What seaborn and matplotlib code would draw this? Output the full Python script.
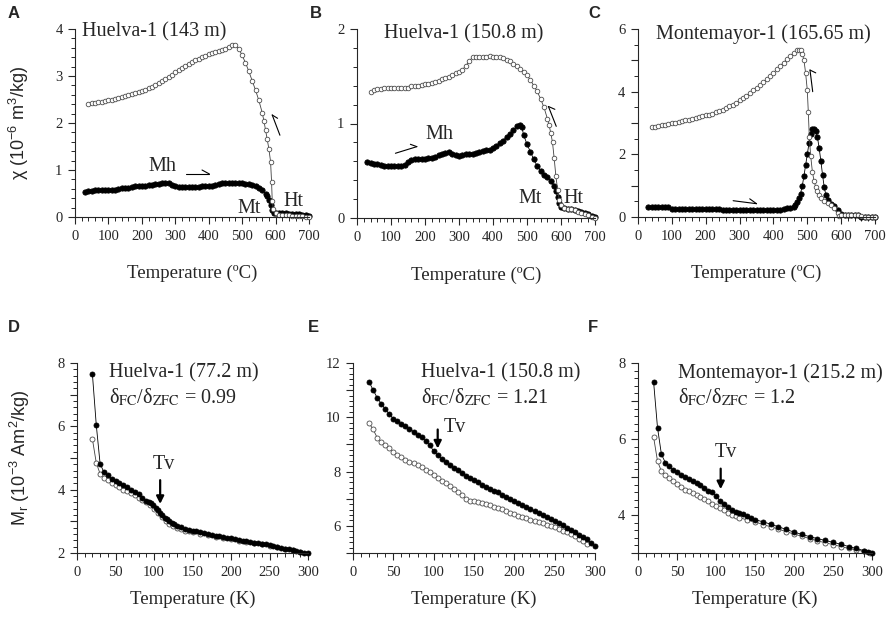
import matplotlib
matplotlib.use("Agg")
import matplotlib.pyplot as plt
import numpy as np
import pandas as pd
import seaborn as sns
from matplotlib.ticker import MultipleLocator, FuncFormatter

# ---- data: (temperature, value) ----
# top row: susceptibility chi (1e-6 m3/kg) vs T (C); heating = filled, cooling = open
a_heat = [(30, 0.54), (40, 0.55), (50, 0.56), (60, 0.57), (70, 0.57), (80, 0.57), (90, 0.57), (100, 0.57),
          (110, 0.58), (120, 0.58), (130, 0.59), (140, 0.61), (150, 0.62), (160, 0.62), (170, 0.63), (180, 0.65),
          (190, 0.65), (200, 0.66), (210, 0.67), (220, 0.68), (230, 0.69), (240, 0.70), (250, 0.71), (260, 0.72),
          (270, 0.73), (280, 0.72), (290, 0.68), (300, 0.65), (310, 0.64), (320, 0.64), (330, 0.63), (340, 0.63),
          (350, 0.63), (360, 0.64), (370, 0.64), (380, 0.65), (390, 0.65), (400, 0.65), (410, 0.66), (420, 0.68),
          (430, 0.71), (440, 0.72), (450, 0.72), (460, 0.72), (470, 0.72), (480, 0.72), (490, 0.72), (500, 0.72),
          (510, 0.71), (520, 0.70), (530, 0.68), (540, 0.65), (550, 0.61), (560, 0.57), (570, 0.50), (575, 0.44),
          (580, 0.36), (585, 0.25), (590, 0.14), (595, 0.09), (600, 0.08), (610, 0.08), (620, 0.08), (630, 0.08),
          (640, 0.07), (650, 0.07), (660, 0.07), (670, 0.06), (680, 0.05), (690, 0.04), (700, 0.03)]
a_cool = [(40, 2.40), (50, 2.42), (60, 2.43), (70, 2.44), (80, 2.45), (90, 2.47), (100, 2.49), (110, 2.50),
          (120, 2.52), (130, 2.53), (140, 2.55), (150, 2.57), (160, 2.59), (170, 2.61), (180, 2.63), (190, 2.66),
          (200, 2.68), (210, 2.71), (220, 2.74), (230, 2.77), (240, 2.81), (250, 2.85), (260, 2.89), (270, 2.93),
          (280, 2.98), (290, 3.03), (300, 3.08), (310, 3.13), (320, 3.18), (330, 3.22), (340, 3.26), (350, 3.30),
          (360, 3.34), (370, 3.37), (380, 3.40), (390, 3.43), (400, 3.46), (410, 3.49), (420, 3.52), (430, 3.54),
          (440, 3.56), (450, 3.58), (460, 3.61), (470, 3.65), (480, 3.65), (490, 3.58), (500, 3.44), (510, 3.28),
          (520, 3.10), (530, 2.90), (540, 2.70), (550, 2.48), (560, 2.22), (565, 2.05), (570, 1.85), (575, 1.65),
          (580, 1.45), (585, 1.18), (588, 0.75), (590, 0.35), (593, 0.18), (600, 0.08), (610, 0.05), (620, 0.04),
          (630, 0.04), (640, 0.04), (650, 0.03), (660, 0.03), (670, 0.02), (680, 0.02), (690, 0.01), (700, 0.01)]

b_heat = [(30, 0.59), (40, 0.58), (50, 0.57), (60, 0.57), (70, 0.56), (80, 0.55), (90, 0.55), (100, 0.55),
          (110, 0.55), (120, 0.55), (130, 0.55), (140, 0.56), (150, 0.59), (160, 0.61), (170, 0.62), (180, 0.62),
          (190, 0.62), (200, 0.62), (210, 0.63), (220, 0.64), (230, 0.65), (240, 0.67), (250, 0.68), (260, 0.69),
          (270, 0.70), (280, 0.68), (290, 0.67), (300, 0.66), (310, 0.67), (320, 0.68), (330, 0.68), (340, 0.68),
          (350, 0.69), (360, 0.70), (370, 0.71), (380, 0.72), (390, 0.72), (400, 0.74), (410, 0.76), (420, 0.79),
          (430, 0.82), (440, 0.86), (450, 0.89), (460, 0.93), (470, 0.97), (480, 0.98), (485, 0.96), (490, 0.88),
          (500, 0.78), (510, 0.70), (520, 0.62), (530, 0.55), (540, 0.50), (550, 0.46), (560, 0.43), (570, 0.39),
          (580, 0.34), (585, 0.29), (590, 0.22), (595, 0.16), (600, 0.12), (610, 0.11), (620, 0.10), (630, 0.09),
          (640, 0.08), (650, 0.07), (660, 0.06), (670, 0.05), (680, 0.04), (690, 0.02), (700, 0.01)]
b_cool = [(40, 1.33), (50, 1.35), (60, 1.36), (70, 1.37), (80, 1.38), (90, 1.38), (100, 1.38), (110, 1.38),
          (120, 1.38), (130, 1.38), (140, 1.38), (150, 1.38), (160, 1.40), (170, 1.40), (180, 1.40), (190, 1.41),
          (200, 1.42), (210, 1.42), (220, 1.43), (230, 1.44), (240, 1.45), (250, 1.47), (260, 1.48), (270, 1.49),
          (280, 1.51), (290, 1.53), (300, 1.55), (310, 1.57), (320, 1.61), (330, 1.66), (340, 1.70), (350, 1.70),
          (360, 1.70), (370, 1.70), (380, 1.70), (390, 1.71), (400, 1.70), (410, 1.70), (420, 1.70), (430, 1.69),
          (440, 1.67), (450, 1.66), (460, 1.63), (470, 1.61), (480, 1.58), (490, 1.55), (500, 1.51), (510, 1.46),
          (520, 1.40), (530, 1.34), (540, 1.26), (550, 1.17), (560, 1.05), (565, 0.98), (570, 0.90), (575, 0.80),
          (580, 0.63), (585, 0.44), (590, 0.30), (595, 0.19), (600, 0.14), (610, 0.11), (620, 0.10), (630, 0.09),
          (640, 0.08), (650, 0.06), (660, 0.05), (670, 0.04), (680, 0.03), (690, 0.01), (700, 0.00)]

c_heat = [(30, 0.32), (40, 0.32), (50, 0.32), (60, 0.32), (70, 0.32), (80, 0.32), (90, 0.31), (100, 0.27),
          (110, 0.27), (120, 0.27), (130, 0.27), (140, 0.27), (150, 0.27), (160, 0.27), (170, 0.27), (180, 0.27),
          (190, 0.27), (200, 0.27), (210, 0.27), (220, 0.27), (230, 0.27), (240, 0.27), (250, 0.22), (260, 0.22),
          (270, 0.22), (280, 0.22), (290, 0.22), (300, 0.22), (310, 0.22), (320, 0.22), (330, 0.22), (340, 0.22),
          (350, 0.22), (360, 0.22), (370, 0.22), (380, 0.22), (390, 0.22), (400, 0.22), (410, 0.22), (420, 0.22),
          (430, 0.25), (440, 0.28), (450, 0.30), (460, 0.33), (465, 0.38), (470, 0.48), (475, 0.60), (480, 0.75),
          (485, 0.98), (490, 1.30), (495, 1.65), (500, 2.00), (505, 2.35), (510, 2.65), (515, 2.80), (520, 2.82),
          (525, 2.75), (530, 2.55), (535, 2.20), (540, 1.80), (545, 1.35), (550, 0.95), (555, 0.70), (560, 0.55),
          (570, 0.42), (580, 0.35), (590, 0.22), (600, 0.08), (610, 0.06), (620, 0.06), (630, 0.06), (640, 0.06),
          (650, 0.05), (660, 0.01), (670, 0.00), (680, 0.00), (690, 0.00), (700, 0.00)]
c_cool = [(40, 2.86), (50, 2.88), (60, 2.91), (70, 2.93), (80, 2.95), (90, 2.97), (100, 2.99), (110, 3.01),
          (120, 3.03), (130, 3.05), (140, 3.08), (150, 3.10), (160, 3.13), (170, 3.16), (180, 3.18), (190, 3.21),
          (200, 3.24), (210, 3.27), (220, 3.30), (230, 3.34), (240, 3.38), (250, 3.42), (260, 3.47), (270, 3.53),
          (280, 3.59), (290, 3.65), (300, 3.72), (310, 3.79), (320, 3.87), (330, 3.95), (340, 4.04), (350, 4.12),
          (360, 4.21), (370, 4.30), (380, 4.40), (390, 4.50), (400, 4.60), (410, 4.71), (420, 4.82), (430, 4.93),
          (440, 5.04), (450, 5.14), (460, 5.24), (470, 5.32), (475, 5.34), (480, 5.33), (485, 5.20), (490, 5.02),
          (495, 4.60), (500, 4.05), (503, 3.35), (506, 2.55), (510, 1.95), (515, 1.45), (520, 1.15), (525, 0.95),
          (530, 0.82), (535, 0.70), (540, 0.62), (550, 0.52), (560, 0.46), (570, 0.38), (580, 0.28), (590, 0.12),
          (595, 0.03), (600, 0.05), (610, 0.06), (620, 0.06), (630, 0.06), (640, 0.06), (650, 0.05), (660, 0.02),
          (670, 0.00), (680, 0.00), (690, 0.00), (700, 0.00)]

# bottom row: remanence Mr (1e-3 Am2/kg) vs T (K); filled = FC, open = ZFC
d_fc = [(20, 7.65), (25, 6.05), (30, 4.82), (35, 4.55), (40, 4.45), (45, 4.35), (50, 4.27), (55, 4.20),
        (60, 4.15), (65, 4.08), (70, 4.00), (75, 3.93), (80, 3.85), (85, 3.75), (90, 3.65), (93, 3.60),
        (96, 3.57), (99, 3.50), (102, 3.42), (105, 3.35), (108, 3.27), (111, 3.20), (114, 3.12), (117, 3.06),
        (120, 3.00), (123, 2.95), (126, 2.90), (130, 2.85), (135, 2.81), (140, 2.77), (145, 2.73), (150, 2.70),
        (155, 2.68), (160, 2.66), (165, 2.63), (170, 2.61), (175, 2.58), (180, 2.55), (185, 2.53), (190, 2.50),
        (195, 2.48), (200, 2.46), (205, 2.43), (210, 2.41), (215, 2.39), (220, 2.37), (225, 2.35), (230, 2.33),
        (235, 2.31), (240, 2.29), (245, 2.27), (250, 2.25), (255, 2.22), (260, 2.20), (265, 2.17), (270, 2.14),
        (275, 2.12), (280, 2.09), (285, 2.06), (290, 2.03), (295, 2.01), (300, 2.00)]
d_zfc = [(20, 5.60), (25, 4.85), (30, 4.50), (35, 4.38), (40, 4.30), (45, 4.22), (50, 4.15), (55, 4.08),
         (60, 4.00), (65, 3.95), (70, 3.88), (75, 3.82), (80, 3.75), (85, 3.68), (90, 3.60), (95, 3.50),
         (100, 3.38), (105, 3.26), (110, 3.14), (115, 3.02), (120, 2.93), (125, 2.86), (130, 2.80), (135, 2.75),
         (140, 2.71), (145, 2.68), (150, 2.65), (160, 2.60), (170, 2.56), (180, 2.52), (190, 2.47), (200, 2.43),
         (210, 2.39), (220, 2.35), (230, 2.31), (240, 2.27), (250, 2.23), (260, 2.18), (270, 2.13), (280, 2.08),
         (290, 2.03)]

e_fc = [(20, 11.30), (25, 11.00), (30, 10.72), (35, 10.50), (40, 10.30), (45, 10.12), (50, 9.95), (55, 9.85),
        (60, 9.75), (65, 9.67), (70, 9.58), (75, 9.47), (80, 9.35), (85, 9.28), (90, 9.12), (95, 8.98),
        (100, 8.75), (105, 8.60), (110, 8.47), (115, 8.35), (120, 8.24), (125, 8.14), (130, 8.05), (135, 7.95),
        (140, 7.85), (145, 7.76), (150, 7.68), (155, 7.60), (160, 7.52), (165, 7.44), (170, 7.37), (175, 7.30),
        (180, 7.23), (185, 7.15), (190, 7.07), (195, 6.99), (200, 6.91), (205, 6.84), (210, 6.77), (215, 6.69),
        (220, 6.62), (225, 6.55), (230, 6.48), (235, 6.40), (240, 6.33), (245, 6.26), (250, 6.18), (255, 6.10),
        (260, 6.02), (265, 5.93), (270, 5.85), (275, 5.77), (280, 5.68), (285, 5.60), (290, 5.50), (295, 5.38),
        (300, 5.25)]
e_zfc = [(20, 9.78), (25, 9.55), (30, 9.25), (35, 9.10), (40, 8.98), (45, 8.85), (50, 8.72), (55, 8.62),
         (60, 8.52), (65, 8.44), (70, 8.37), (75, 8.30), (80, 8.23), (85, 8.15), (90, 8.06), (95, 7.97),
         (100, 7.86), (105, 7.76), (110, 7.66), (115, 7.57), (120, 7.47), (125, 7.37), (130, 7.25), (135, 7.13),
         (140, 7.00), (145, 6.93), (150, 6.90), (155, 6.87), (160, 6.84), (165, 6.80), (170, 6.76), (175, 6.71),
         (180, 6.66), (185, 6.61), (190, 6.55), (195, 6.49), (200, 6.42), (205, 6.37), (210, 6.32), (215, 6.28),
         (220, 6.23), (225, 6.18), (230, 6.14), (235, 6.09), (240, 6.04), (245, 5.99), (250, 5.94), (255, 5.88),
         (260, 5.82), (265, 5.76), (270, 5.69), (275, 5.62), (280, 5.53), (285, 5.43), (290, 5.33)]

f_fc = [(20, 7.50), (25, 6.30), (30, 5.60), (35, 5.38), (40, 5.28), (45, 5.18), (50, 5.12), (55, 5.06),
        (60, 5.00), (65, 4.95), (70, 4.90), (75, 4.85), (80, 4.80), (85, 4.72), (90, 4.63), (95, 4.60),
        (100, 4.50), (105, 4.38), (110, 4.28), (115, 4.20), (120, 4.14), (125, 4.09), (130, 4.05), (135, 4.02),
        (140, 3.97), (145, 3.92), (150, 3.88), (160, 3.82), (170, 3.76), (180, 3.69), (190, 3.62), (200, 3.55),
        (210, 3.49), (220, 3.43), (230, 3.38), (240, 3.33), (250, 3.28), (260, 3.23), (270, 3.17), (280, 3.12),
        (290, 3.06), (295, 3.03), (300, 3.00)]
f_zfc = [(20, 6.05), (25, 5.42), (30, 5.15), (35, 5.05), (40, 4.97), (45, 4.90), (50, 4.82), (55, 4.74),
         (60, 4.67), (65, 4.62), (70, 4.57), (75, 4.52), (80, 4.47), (85, 4.42), (90, 4.36), (95, 4.30),
         (100, 4.24), (105, 4.18), (110, 4.12), (115, 4.06), (120, 4.01), (125, 3.97), (130, 3.93), (140, 3.87),
         (150, 3.82), (160, 3.75), (170, 3.69), (180, 3.63), (190, 3.56), (200, 3.50), (210, 3.44), (220, 3.38),
         (230, 3.32), (240, 3.27), (250, 3.22), (260, 3.17), (270, 3.12), (280, 3.08), (290, 3.04), (298, 3.01)]

top_titles = ["Huelva-1 (143 m)", "Huelva-1 (150.8 m)", "Montemayor-1 (165.65 m)"]
bottom_titles = ["Huelva-1 (77.2 m)", "Huelva-1 (150.8 m)", "Montemayor-1 (215.2 m)"]
ratios = ["0.99", "1.21", "1.2"]

SERIF = ["Liberation Serif", "DejaVu Serif"]
SANS = ["Liberation Sans", "DejaVu Sans"]

sns.set_style("ticks")
plt.rcParams["font.family"] = SERIF
plt.rcParams["mathtext.fontset"] = "custom"
plt.rcParams["mathtext.rm"] = "Liberation Sans"
plt.rcParams["mathtext.it"] = "Liberation Sans:italic"
plt.rcParams["mathtext.bf"] = "Liberation Sans:bold"

fig = plt.figure(figsize=(8.92, 6.23), dpi=100)
W, H = 892.0, 623.0


def px_axes(left, top, right, bottom):
    return fig.add_axes([left / W, 1 - bottom / H, (right - left) / W, (bottom - top) / H])


ax_a = px_axes(75, 29, 309, 217)
ax_b = px_axes(357, 29, 595, 218)
ax_c = px_axes(638, 29, 875, 217)
ax_d = px_axes(77, 363, 308, 553)
ax_e = px_axes(353, 363, 595, 553)
ax_f = px_axes(638, 363, 872, 553)


def draw(ax, pts, filled, ms):
    df = pd.DataFrame(pts, columns=["T", "v"])
    face = "black" if filled else "white"
    edge = "black" if filled else "0.3"
    sns.lineplot(data=df, x="T", y="v", ax=ax, color="black" if filled else "0.25", lw=0.6,
                 marker="o", markersize=ms, markerfacecolor=face, markeredgecolor=edge, mew=0.6,
                 estimator=None, sort=False, clip_on=False)


def even_only(v, pos):
    return f"{v:g}" if int(round(v)) % 2 == 0 else ""


def style(ax, xlim, ylim, xmaj, xmin, ymaj, ymin, evenlab=False):
    ax.set_xlim(*xlim)
    ax.set_ylim(*ylim)
    ax.xaxis.set_major_locator(MultipleLocator(xmaj))
    ax.xaxis.set_minor_locator(MultipleLocator(xmin))
    ax.yaxis.set_major_locator(MultipleLocator(ymaj))
    ax.yaxis.set_minor_locator(MultipleLocator(ymin))
    if evenlab:
        ax.yaxis.set_major_formatter(FuncFormatter(even_only))
    for s in ["top", "right"]:
        ax.spines[s].set_visible(False)
    for s in ["left", "bottom"]:
        ax.spines[s].set_linewidth(0.8)
    ax.tick_params(which="major", direction="out", length=5, width=0.8, labelsize=10.5, pad=4)
    ax.tick_params(which="minor", direction="out", length=3.2, width=0.7)
    ax.set_xlabel("")
    ax.set_ylabel("")


def harpoon(ax, start, tip, barb):
    ax.plot([start[0], tip[0]], [start[1], tip[1]], color="black", lw=0.8)
    ax.plot([barb[0], tip[0]], [barb[1], tip[1]], color="black", lw=0.8)


# ---- top row ----
for ax, heat, cool in [(ax_a, a_heat, a_cool), (ax_b, b_heat, b_cool), (ax_c, c_heat, c_cool)]:
    draw(ax, heat, True, 3.8)
    draw(ax, cool, False, 3.3)

style(ax_a, (0, 700), (0, 4), 100, 20, 1, 0.2)
style(ax_b, (0, 700), (0, 2), 100, 20, 1, 0.2)
style(ax_c, (0, 700), (0, 6), 100, 20, 1, 0.5, evenlab=True)

ax_a.text(20, 3.93, top_titles[0], fontsize=14.5, va="center", ha="left")
ax_b.text(78, 1.95, top_titles[1], fontsize=14.5, va="center", ha="left")
ax_c.text(54, 5.85, top_titles[2], fontsize=14.5, va="center", ha="left")

ax_a.text(220, 1.07, "Mh", fontsize=14.5, va="center")
ax_a.text(487, 0.19, "Mt", fontsize=14.5, va="center")
ax_a.text(625, 0.34, "Ht", fontsize=14.5, va="center")
ax_b.text(200, 0.88, "Mh", fontsize=14.5, va="center")
ax_b.text(475, 0.21, "Mt", fontsize=14.5, va="center")
ax_b.text(608, 0.21, "Ht", fontsize=14.5, va="center")

harpoon(ax_a, (332, 0.915), (402, 0.915), (380, 1.0))
harpoon(ax_a, (613, 1.74), (590, 2.17), (606, 2.10))
harpoon(ax_b, (113, 0.685), (176, 0.755), (157, 0.78))
harpoon(ax_b, (586, 0.97), (563, 1.18), (582, 1.15))
harpoon(ax_c, (281, 0.52), (350, 0.425), (330, 0.58))
harpoon(ax_c, (516, 4.0), (508, 4.69), (525, 4.60))

for ax in [ax_a, ax_b, ax_c]:
    ax.set_xlabel("Temperature (ºC)", fontsize=13.5)
    ax.xaxis.set_label_coords(0.5, -0.255)

ax_a.set_ylabel("χ (10$^{-6}$ m$^3$/kg)", fontsize=13, family=SANS)
ax_a.yaxis.set_label_coords(-0.19, 0.5)

# ---- bottom row ----
for ax, fc, zfc in [(ax_d, d_fc, d_zfc), (ax_e, e_fc, e_zfc), (ax_f, f_fc, f_zfc)]:
    draw(ax, zfc, False, 3.6)
    draw(ax, fc, True, 3.6)

style(ax_d, (0, 300), (2, 8), 50, 10, 1, 0.2, evenlab=True)
style(ax_e, (0, 300), (5, 12), 50, 10, 1, 0.2, evenlab=True)
style(ax_f, (0, 300), (3, 8), 50, 10, 1, 0.2, evenlab=True)

for ax, (x0, y1, y2), title, r in [(ax_d, (42, 7.68, 6.9), bottom_titles[0], ratios[0]),
                                    (ax_e, (84, 11.63, 10.72), bottom_titles[1], ratios[1]),
                                    (ax_f, (51, 7.73, 7.1), bottom_titles[2], ratios[2])]:
    ax.text(x0, y1, title, fontsize=14.5, va="center", ha="left")
    ax.text(x0, y2, r"δ$_{\rm FC}$/δ$_{\rm ZFC}$ = " + r, fontsize=14.5, va="center", ha="left",
            math_fontfamily="stix")
    ax.set_xlabel("Temperature (K)", fontsize=13.5)
    ax.xaxis.set_label_coords(0.5, -0.2)

arrow_kw = dict(arrowstyle="-|>", color="black", lw=1.6, mutation_scale=11, shrinkA=0, shrinkB=0)
ax_d.annotate("", xy=(108, 3.55), xytext=(108, 4.3), arrowprops=arrow_kw)
ax_d.text(113, 4.8, "Tv", fontsize=14.5, ha="center", va="center")
ax_e.annotate("", xy=(105, 8.85), xytext=(105, 9.55), arrowprops=arrow_kw)
ax_e.text(112, 9.62, "Tv", fontsize=14.5, ha="left", va="center")
ax_f.annotate("", xy=(106, 4.68), xytext=(106, 5.22), arrowprops=arrow_kw)
ax_f.text(113, 5.65, "Tv", fontsize=14.5, ha="center", va="center")

ax_d.set_ylabel("M$_{\\rm r}$ (10$^{-3}$ Am$^2$/kg)", fontsize=13, family=SANS)
ax_d.yaxis.set_label_coords(-0.195, 0.5)

# ---- panel letters ----
for lab, x, y in [("A", 8, 14), ("B", 310, 14), ("C", 588, 14),
                  ("D", 8, 328), ("E", 308, 328), ("F", 588, 328)]:
    fig.text(x / W, 1 - y / H, lab, fontsize=12, fontweight="bold", family=SANS, ha="left", va="center")

fig.savefig("out.png", dpi=100)
